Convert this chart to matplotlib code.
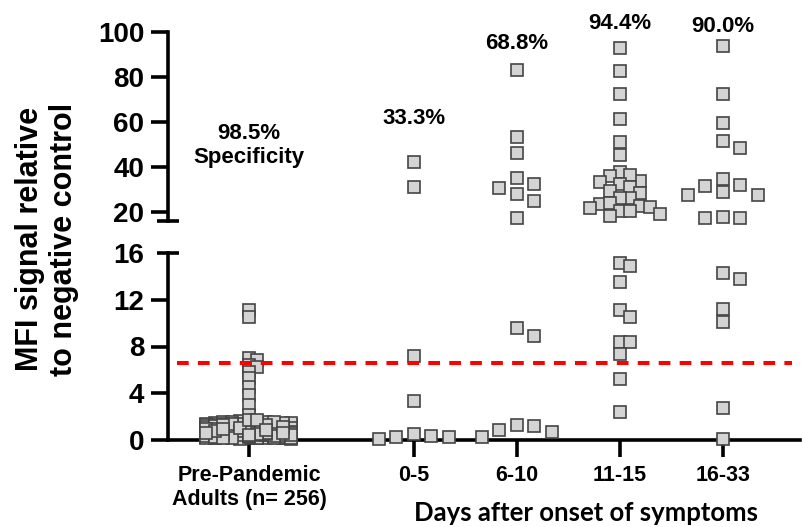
import matplotlib
matplotlib.use('Agg')
import matplotlib.pyplot as plt
import numpy as np
from matplotlib.lines import Line2D

plt.rcParams['font.family'] = ['Liberation Sans', 'DejaVu Sans']

# ---------------- data ----------------
categories = ["Pre-Pandemic\nAdults (n= 256)", "0-5", "6-10", "11-15", "16-33"]
percent_labels = ["98.5%\nSpecificity", "33.3%", "68.8%", "94.4%", "90.0%"]
cutoff = 6.55

pre_high = [11.1, 10.55, 7.05, 6.85, 6.45, 6.25, 5.85, 5.3, 4.55, 3.85, 3.0, 2.15]
pre_low = [
    0.42, 0.85, 1.12, 0.30, 0.66, 1.45, 0.21, 0.93, 0.57, 1.28, 0.38, 0.74, 1.05, 0.49, 0.16, 1.62, 0.88, 0.27, 0.61, 1.19,
    0.52, 0.97, 0.34, 1.36, 0.71, 0.12, 0.83, 1.08, 0.45, 0.25, 1.51, 0.68, 0.39, 0.95, 1.23, 0.58, 0.19, 0.79, 1.31, 0.47,
    0.63, 0.29, 1.02, 0.86, 0.41, 1.17, 0.55, 0.33, 1.41, 0.72, 0.24, 0.91, 0.48, 1.26, 0.67, 0.36, 1.09, 0.81, 0.53, 0.18,
    1.38, 0.59, 0.76, 0.44, 1.14, 0.31, 0.89, 0.65, 1.55, 0.22, 0.98, 0.51, 0.37, 1.21, 0.70, 0.43, 0.84, 1.33, 0.26, 0.62,
    0.92, 0.35, 1.07, 0.56, 0.14, 0.78, 1.44, 0.46, 0.69, 1.01, 0.28, 0.87, 0.54, 1.19, 0.40, 0.73, 0.23, 1.29, 0.64, 0.96,
    0.32, 0.82, 1.11, 0.50, 0.20, 1.48, 0.75, 0.43, 0.99, 0.60, 1.24, 0.37, 0.88, 0.15, 0.66, 1.35, 0.53, 0.80, 0.27, 1.04,
    0.70, 0.45, 1.16, 0.34, 0.90, 0.58, 1.40, 0.25, 0.77, 0.49, 1.06, 0.62, 0.38, 1.27, 0.85, 0.17, 0.55, 0.94, 0.41, 1.58,
    0.61, 0.30, 0.83, 1.13, 0.47, 0.72, 0.21, 1.32, 0.57, 0.98, 0.36, 0.67, 1.20, 0.44, 0.79, 0.13, 1.03, 0.52, 0.29, 0.89,
    1.46, 0.64, 0.39, 0.93, 0.24, 1.15, 0.71, 0.48, 0.86, 0.33, 1.37, 0.59, 0.19, 0.76, 1.00, 0.42, 0.68, 1.22, 0.31, 0.81,
    0.54, 1.09, 0.26, 0.74, 0.46, 1.30, 0.63, 0.35, 0.91, 0.11, 0.57, 1.18, 0.40, 0.84, 0.69, 0.22, 1.42, 0.50, 0.97, 0.32,
    0.78, 0.60, 1.25, 0.43, 0.18, 0.87, 0.65, 1.05, 0.28, 0.73, 0.51, 1.34, 0.37, 0.95, 0.56, 0.20, 1.12, 0.82, 0.45, 0.66,
    0.99, 0.34, 0.75, 1.53, 0.48, 0.27, 0.88, 0.62, 1.14, 0.41, 0.70, 0.16, 1.01, 0.55, 0.80, 0.38, 1.28, 0.60, 0.92, 0.47,
    1.75, 1.68, 0.58, 0.83,
]
days_0_5 = [42.0, 31.0, 7.2, 3.3, 0.23, 0.54, 0.23, 0.34, 0.06]
days_6_10 = [83.2, 53.2, 46.0, 35.2, 32.2, 30.7, 27.8, 24.8, 17.3, 9.55, 8.92,
             0.66, 1.28, 0.86, 1.17, 0.23]
days_11_15 = [92.8, 82.8, 72.5, 61.4, 51.1, 45.4, 37.6, 36.0, 33.7, 36.4, 33.4, 32.2,
              31.2, 29.2, 28.2, 26.0, 26.2, 23.3, 22.5, 23.7, 21.8, 20.3, 22.2, 20.3,
              18.8, 18.1, 15.17, 14.88, 13.54, 11.15, 10.55, 8.41, 8.41, 7.36, 5.19, 2.37]
days_16_33 = [93.8, 72.5, 59.4, 51.4, 48.6, 34.4, 31.9, 31.4, 28.8, 27.3, 27.3, 17.6,
              17.0, 17.0, 14.26, 13.74, 11.23, 10.12, 2.77, 0.06]

groups = [pre_high + pre_low, days_0_5, days_6_10, days_11_15, days_16_33]

# ---------------- layout ----------------
W, H = 802, 527
XPOS = [0.0, 1.6, 2.6, 3.6, 4.6]
XLIM = (-0.786, 5.35)
BREAK = 16
LO_LIM = (0, 16)
UP_LIM = (16, 100)
LABEL_Y = [49.7, 61.5, 94.8, 103.8, 102.5]
# swarm settings per group: (step px, collision x px, collision y px, max half-width px)
SWARM = [(8.5, 8.5, 3.0, 44.0), (17.5, 12.0, 12.5, 40.0), (17.5, 12.0, 12.5, 40.0),
         (10.0, 10.0, 11.0, 40.0), (17.5, 12.0, 12.5, 40.0)]

fig = plt.figure(figsize=(W / 100, H / 100), dpi=100)


def fx(px):
    return px / W


def fy(py):
    return 1 - py / H


ax_lo = fig.add_axes([fx(168), fy(440), fx(800) - fx(168), fy(253) - fy(440)])
ax_up = fig.add_axes([fx(168), fy(220.7), fx(800) - fx(168), fy(32.3) - fy(220.7)])

SPINE_W = 2.6
for ax in (ax_lo, ax_up):
    ax.set_xlim(*XLIM)
    ax.spines['top'].set_visible(False)
    ax.spines['right'].set_visible(False)
    ax.spines['left'].set_linewidth(SPINE_W)
    ax.spines['bottom'].set_linewidth(SPINE_W)
    ax.tick_params(axis='both', direction='out', length=12, width=SPINE_W,
                   labelsize=20, pad=5, color='black')
    ax.patch.set_alpha(0)

ax_lo.set_ylim(*LO_LIM)
ax_up.set_ylim(*UP_LIM)
ax_lo.set_yticks([0, 4, 8, 12, 16])
ax_up.set_yticks([20, 40, 60, 80, 100])
ax_up.spines['bottom'].set_visible(False)
ax_up.set_xticks([])
ax_lo.set_xticks(XPOS)
ax_lo.set_xticklabels(categories, fontsize=15.5, fontweight='bold')
ax_lo.tick_params(axis='x', length=12, pad=6)
for ax in (ax_lo, ax_up):
    for lab in ax.get_yticklabels():
        lab.set_fontweight('bold')
        lab.set_fontsize(20)
ax_lo.yaxis.get_major_ticks()[-1].tick1line.set_visible(False)

# break caps
for ypx in (253, 220.7):
    fig.add_artist(Line2D([fx(157), fx(178.5)], [fy(ypx), fy(ypx)],
                          transform=fig.transFigure, color='black',
                          lw=SPINE_W, solid_capstyle='butt'))


def swarm_x(ax, x0, vals, step, sx, sy, maxw):
    t = ax.transData
    pys = [t.transform((x0, v))[1] for v in vals]
    order = np.argsort(-np.asarray(vals), kind='stable')
    cands = [0.0]
    k = 1
    while k * step <= maxw + 1e-6:
        cands += [k * step, -k * step]
        k += 1
    placed = []
    out = np.zeros(len(vals))
    for i in order:
        py = pys[i]
        best, bestcost = None, None
        for c in cands:
            cost = 0.0
            for qx, qy in placed:
                dx = abs(c - qx)
                dy = abs(py - qy)
                if dx < sx and dy < sy:
                    cost += (sx - dx) * (sy - dy)
            if cost == 0:
                best = c
                break
            if bestcost is None or cost < bestcost - 1e-9:
                best, bestcost = c, cost
        placed.append((best, py))
        out[i] = best
    ppu = t.transform((1, 0))[0] - t.transform((0, 0))[0]
    return x0 + out / ppu


MK = dict(linestyle='none', marker='s', ms=8.7, mfc='#d4d4d4', mec='#444444',
          mew=1.2, clip_on=False, zorder=3)

for gi, vals in enumerate(groups):
    vals = np.asarray(vals, dtype=float)
    lo = vals[vals < BREAK]
    up = vals[vals >= BREAK]
    step, sx, sy, maxw = SWARM[gi]
    if len(lo):
        ax_lo.plot(swarm_x(ax_lo, XPOS[gi], lo, step, sx, sy, maxw), lo, **MK)
    if len(up):
        ax_up.plot(swarm_x(ax_up, XPOS[gi], up, step, sx, sy, maxw), up, **MK)

# cutoff line
ax_lo.plot([-0.70, 5.27], [cutoff, cutoff], color='#ff0000', lw=2.9,
           dashes=(2.9, 2.3), zorder=5, clip_on=False)

# percent annotations
for gi, txt in enumerate(percent_labels):
    ax_up.text(XPOS[gi], LABEL_Y[gi], txt, ha='center', va='center',
               fontsize=16, fontweight='bold', linespacing=1.2, clip_on=False)

fig.text(fx(586), fy(513), 'Days after onset of symptoms', ha='center', va='center',
         fontsize=18.5, fontweight='bold', family=['Lato', 'DejaVu Sans'])
fig.text(fx(47), fy(239), 'MFI signal relative\nto negative control', rotation=90,
         ha='center', va='center', fontsize=22, fontweight='bold',
         linespacing=1.15, multialignment='center')

fig.savefig('out.png', dpi=100)
